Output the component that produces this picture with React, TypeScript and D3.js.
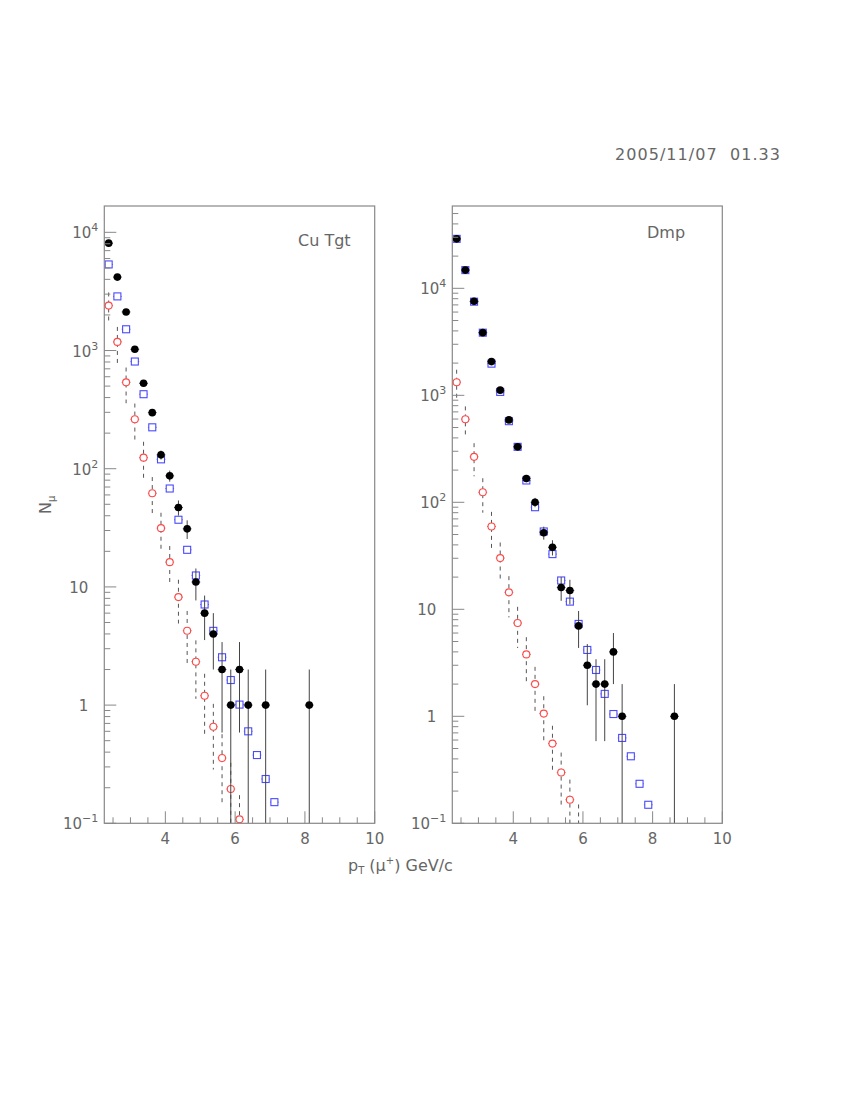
import * as d3 from "d3";
import React from "react";

// bin centres (GeV/c)
const ptBins = [
  2.375, 2.625, 2.875, 3.125, 3.375, 3.625, 3.875, 4.125, 4.375, 4.625,
  4.875, 5.125, 5.375, 5.625, 5.875, 6.125, 6.375, 6.625, 6.875, 7.125,
  7.375, 7.625, 7.875,
];

// Cu Tgt panel
const cuBlackPt = [2.375, 2.625, 2.875, 3.125, 3.375, 3.625, 3.875, 4.125, 4.375, 4.625, 4.875, 5.125, 5.375, 5.625, 5.875, 6.125, 6.375, 6.875, 8.125];
const cuBlackN = [8100, 4180, 2120, 1025, 528, 298, 131, 87, 47, 31, 11, 6, 4, 2, 1, 2, 1, 1, 1];
const cuBlueN = [5350, 2870, 1513, 807, 427, 224, 120, 68, 37, 20.6, 12.5, 7.1, 4.25, 2.54, 1.63, 1.01, 0.6, 0.378, 0.237, 0.151];
const cuRedN = [2400, 1183, 538, 262, 124, 62, 31.4, 16.2, 8.2, 4.26, 2.33, 1.2, 0.655, 0.357, 0.195, 0.108];
const cuRedErr = [700, 400, 180, 94, 45, 23, 11, 6, 3.3, 2.0, 1.2, 0.64, 0.37, 0.21, 0.13, 0.065];

// Dmp panel
const dmpBlackPt = [2.375, 2.625, 2.875, 3.125, 3.375, 3.625, 3.875, 4.125, 4.375, 4.625, 4.875, 5.125, 5.375, 5.625, 5.875, 6.125, 6.375, 6.625, 6.875, 7.125, 8.625];
const dmpBlackN = [29000, 14800, 7570, 3850, 2065, 1117, 589, 330, 167, 100, 52, 38, 16, 15, 7, 3, 2, 2, 4, 1, 1];
const dmpBlueN = [29000, 14800, 7500, 3850, 1977, 1076, 573, 330, 160, 90, 53.4, 32.8, 18.6, 11.8, 7.3, 4.17, 2.71, 1.62, 1.05, 0.628, 0.423, 0.234, 0.149];
const dmpRedN = [1325, 598, 266, 124, 59.4, 30.1, 14.4, 7.45, 3.79, 2.0, 1.06, 0.556, 0.298, 0.166, 0.08];
const dmpRedErr = [410, 190, 91, 44, 22, 12, 6, 3.1, 1.7, 0.9, 0.48, 0.26, 0.16, 0.09, 0.07];

const xTicks = [4, 6, 8, 10];
const yDecades = [-1, 0, 1, 2, 3, 4];

const FONT = "'DejaVu Sans', 'Liberation Sans', sans-serif";
const TXT = "#666";
const AX = "#888";
const HALF_BIN = 0.125;

type Pt = { x: number; y: number; e: number };

const Panel = ({ id, left, right, top, bottom, yMax, black, blue, red, label, labelX, labelY }: any) => {
  const x = d3.scaleLinear().domain([2.25, 10]).range([left, right]);
  const y = d3.scaleLog().domain([0.1, yMax]).range([bottom, top]);

  const minorY: number[] = [];
  yDecades.forEach((d) => {
    for (let m = 2; m <= 9; m++) {
      const v = m * Math.pow(10, d);
      if (v < yMax) minorY.push(v);
    }
  });
  const minorX = d3.range(2.5, 10, 0.5).filter((v) => v % 2 !== 0);

  const yc = (v: number) => Math.max(top, Math.min(bottom + 2, y(Math.max(v, 1e-3))));

  return (
    <g>
      <defs>
        <clipPath id={id}>
          <rect x={left} y={top} width={right - left} height={bottom - top} />
        </clipPath>
      </defs>

      <g clipPath={`url(#${id})`}>
        {/* red: dashed errors, open circles */}
        {red.map((p: Pt, i: number) => (
          <g key={"r" + i}>
            <line x1={x(p.x)} x2={x(p.x)} y1={yc(p.y + p.e)} y2={yc(p.y - p.e)}
              stroke="#555" strokeWidth={1} strokeDasharray="4,4" />
            <line x1={x(p.x - HALF_BIN)} x2={x(p.x + HALF_BIN)} y1={y(p.y)} y2={y(p.y)}
              stroke="#777" strokeWidth={1} />
            <circle cx={x(p.x)} cy={y(p.y)} r={3.5} fill="white" stroke="#ff4a4a" strokeWidth={1.1} />
          </g>
        ))}
        {/* blue: open squares */}
        {blue.map((p: Pt, i: number) => (
          <g key={"b" + i}>
            <line x1={x(p.x - HALF_BIN)} x2={x(p.x + HALF_BIN)} y1={y(p.y)} y2={y(p.y)}
              stroke="#777" strokeWidth={1} />
            <rect x={x(p.x) - 3.5} y={y(p.y) - 3.5} width={7} height={7}
              fill="white" stroke="#4a4aff" strokeWidth={1.1} />
          </g>
        ))}
        {/* black: poisson errors, filled dots */}
        {black.map((p: Pt, i: number) => (
          <g key={"k" + i}>
            <line x1={x(p.x)} x2={x(p.x)} y1={yc(p.y + p.e)} y2={yc(p.y - p.e)}
              stroke="#444" strokeWidth={1} />
            <line x1={x(p.x - HALF_BIN)} x2={x(p.x + HALF_BIN)} y1={y(p.y)} y2={y(p.y)}
              stroke="#444" strokeWidth={1} />
            <circle cx={x(p.x)} cy={y(p.y)} r={3.8} fill="black" />
          </g>
        ))}
      </g>

      {/* frame */}
      <rect x={left} y={top} width={right - left} height={bottom - top} fill="none" stroke={AX} strokeWidth={1.2} />

      {/* y ticks */}
      {yDecades.map((d) => (
        <line key={"yM" + d} x1={left} x2={left + 12} y1={y(Math.pow(10, d))} y2={y(Math.pow(10, d))} stroke={AX} />
      ))}
      {minorY.map((v) => (
        <line key={"ym" + v} x1={left} x2={left + 6} y1={y(v)} y2={y(v)} stroke={AX} />
      ))}
      {yDecades.map((d) => {
        const yy = y(Math.pow(10, d)) + 6;
        if (d === 0 || d === 1) {
          return (
            <text key={"yl" + d} x={left - 16} y={yy} textAnchor="end" fontSize={15} fill={TXT} fontFamily={FONT}>
              {d === 0 ? "1" : "10"}
            </text>
          );
        }
        return (
          <text key={"yl" + d} x={left - 6} y={yy} textAnchor="end" fontSize={15} fill={TXT} fontFamily={FONT}>
            10<tspan dy={-7} fontSize={11}>{d < 0 ? "\u2212" + Math.abs(d) : d}</tspan>
          </text>
        );
      })}

      {/* x ticks */}
      {xTicks.map((v) => (
        <line key={"xM" + v} x1={x(v)} x2={x(v)} y1={bottom} y2={bottom - 12} stroke={AX} />
      ))}
      {minorX.map((v) => (
        <line key={"xm" + v} x1={x(v)} x2={x(v)} y1={bottom} y2={bottom - 6} stroke={AX} />
      ))}
      {xTicks.map((v) => (
        <text key={"xl" + v} x={x(v)} y={bottom + 21} textAnchor="middle" fontSize={15} fill={TXT} fontFamily={FONT}>
          {v}
        </text>
      ))}

      <text x={labelX} y={labelY} fontSize={16} fill={TXT} fontFamily={FONT}>{label}</text>
    </g>
  );
};

const toPts = (xs: number[], ns: number[], es: number[]) =>
  ns.map((n, i) => ({ x: xs[i], y: n, e: es[i] }));

export default function App() {
  const cuBlack = toPts(cuBlackPt, cuBlackN, cuBlackN.map((n) => Math.sqrt(n)));
  const cuBlue = toPts(ptBins, cuBlueN, cuBlueN.map(() => 0));
  const cuRed = toPts(ptBins, cuRedN, cuRedErr);
  const dmpBlack = toPts(dmpBlackPt, dmpBlackN, dmpBlackN.map((n) => Math.sqrt(n)));
  const dmpBlue = toPts(ptBins, dmpBlueN, dmpBlueN.map(() => 0));
  const dmpRed = toPts(ptBins, dmpRedN, dmpRedErr);

  return (
    <svg width={850} height={1100} style={{ position: "absolute", left: 0, top: 0, background: "white" }}>
      <text x={615} y={160} fontSize={16} fill={TXT} fontFamily={FONT} style={{ whiteSpace: "pre" }}
        textLength={165} lengthAdjust="spacing">
        {"2005/11/07  01.33"}
      </text>

      <Panel id="cu" left={104.3} right={374.7} top={206} bottom={823.3} yMax={16700}
        black={cuBlack} blue={cuBlue} red={cuRed} label="Cu Tgt" labelX={298} labelY={246} />
      <Panel id="dmp" left={452.3} right={722.3} top={206} bottom={823.3} yMax={58800}
        black={dmpBlack} blue={dmpBlue} red={dmpRed} label="Dmp" labelX={647} labelY={238} />

      <text transform="translate(51,514) rotate(-90)" fontSize={16} fill={TXT} fontFamily={FONT}>
        N<tspan dy={4} fontSize={10}>μ</tspan>
      </text>

      <text x={348} y={871} fontSize={16} fill={TXT} fontFamily={FONT}>
        p<tspan dy={3} fontSize={10}>T</tspan>
        <tspan dy={-3}> (μ</tspan>
        <tspan dy={-7} fontSize={10}>+</tspan>
        <tspan dy={7}>) GeV/c</tspan>
      </text>
    </svg>
  );
}
